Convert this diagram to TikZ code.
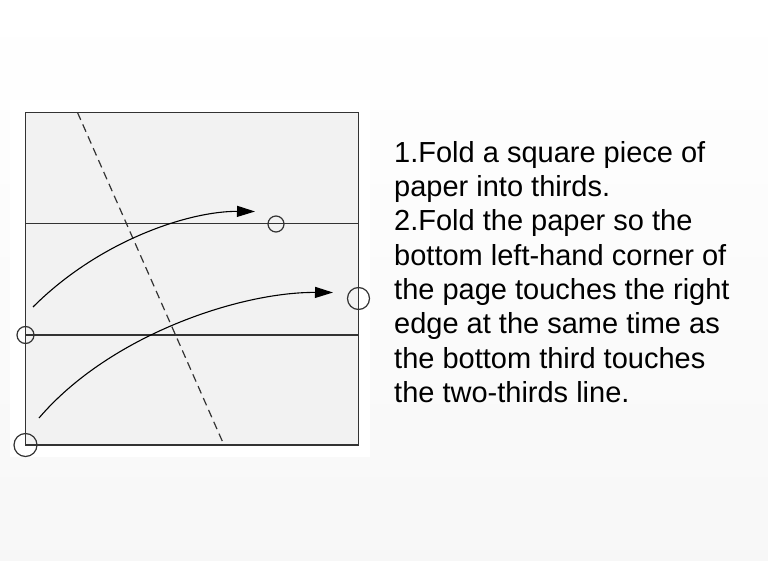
\documentclass[tikz,border=0pt]{standalone}
\usepackage{fontspec}
\setmainfont{Liberation Sans}
\usetikzlibrary{arrows.meta}
\definecolor{sheet}{HTML}{F2F2F2}
\definecolor{ink}{HTML}{333333}
\tikzset{
    foldline/.style={ink, line width=1.2pt},
    creaseline/.style={ink, line width=1.2pt, dash pattern=on 8pt off 5pt},
    movearrow/.style={black, line width=1.1pt, -{Triangle[length=18pt,width=11pt]}},
    markring/.style={circle, draw=ink, line width=1.2pt, inner sep=0pt, minimum size=#1},
    instr/.style={align=left, inner sep=0pt, font=\fontsize{29}{34.3}\selectfont}
}
\begin{document}
\begin{tikzpicture}[x=1pt,y=-1pt]
    \useasboundingbox (0,0) rectangle (768,561);
    \shade[top color=white, bottom color=black!3] (0,0) rectangle (768,561);
    \fill[white] (10,100) rectangle (370,457);
    % Blatt und Drittellinien
    \draw[ink, fill=sheet, line width=1.4pt] (25.5,112.5) rectangle (358.5,445);
    \draw[foldline] (25.5,223.5) -- (358.5,223.5);
    \draw[foldline] (25.5,335) -- (358.5,335);
    \draw[ink, line width=1.8pt] (25.5,335) -- (100,335);
    % Faltlinie
    \coordinate (crtop) at (77.5,112.5);
    \coordinate (crbot) at (224,445);
    \draw[creaseline] (crtop) -- (crbot);
    % Markierungen
    \node[markring=16pt] (ringA) at (276,224) {};
    \node[markring=22pt] (ringB) at (358.5,298.5) {};
    \node[markring=17pt] (ringC) at (25.5,335) {};
    \node[markring=23pt] (ringD) at (25.5,445) {};
    % Pfeile
    \coordinate (upA) at (33,307);
    \coordinate (upB) at (255,211.5);
    \coordinate (loA) at (39,418);
    \coordinate (loB) at (333,292.5);
    \draw[movearrow] (upA) .. controls (100,240) and (190,211) .. (upB);
    \draw[movearrow] (loA) .. controls (110,335) and (240,292) .. (loB);
    % Anleitung
    \node[instr, anchor=north west] (steps) at (394,141) {1.Fold a square piece of\\
        paper into thirds.\\
        2.Fold the paper so the\\
        bottom left-hand corner of\\
        the page touches the right\\
        edge at the same time as\\
        the bottom third touches\\
        the two-thirds line.};
\end{tikzpicture}
\end{document}
